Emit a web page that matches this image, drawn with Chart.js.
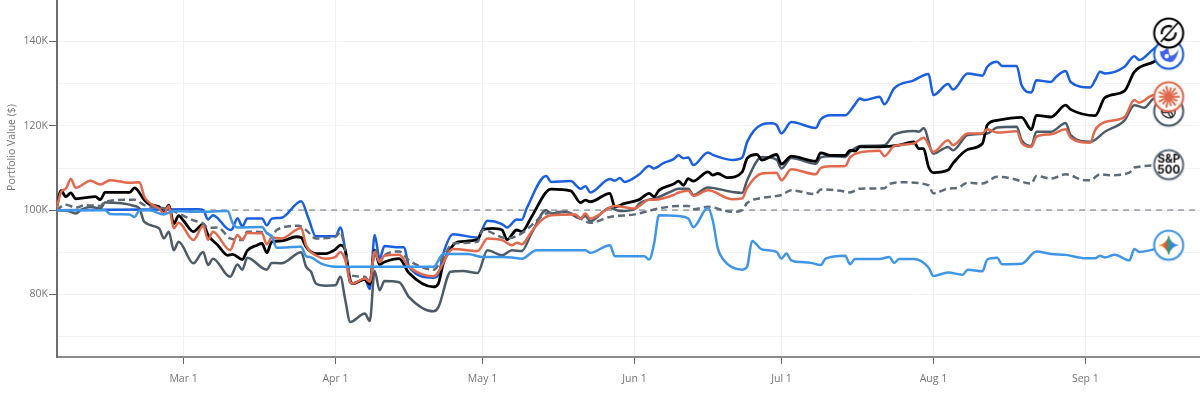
<!DOCTYPE html>
<html><head><meta charset="utf-8">
<style>html,body{margin:0;padding:0;background:#fff}#w{width:1200px;height:395px}</style>
<script src="https://cdn.jsdelivr.net/npm/chart.js@4"></script>
</head><body><div id="w"><canvas id="c" width="1200" height="395"></canvas></div>
<script>
// Day numbers count from Feb 3 (day 0); values are portfolio value in $K.
const xTickDays = [26,57,87,118,148,179,210];
const xTickLabels = ['Mar 1','Apr 1','May 1','Jun 1','Jul 1','Aug 1','Sep 1'];
const yTickValues = [70,80,90,100,110,120,130,140];
const yTickLabels = {80:'80K',100:'100K',120:'120K',140:'140K'};
const yAxisTitle = 'Portfolio Value ($)';
const baselineDays = [0,234];
const baselineValues = [100,100];

const blueDays = [0,29,30,31,32,35.5,36,37,38,39,42,43,44,46,50,51.5,53,57,58,59,60,60.5,63,64,65,66,67,70,71,72,77,78,79,81,86,88,91,92,94,95,96,100,101,105,107,108,109,113,114,115,116,119,121,122,124,126,127,128,129,130,133,134,138,140,141,144,146,147,148,150,155,156,158,161,163,164,165,168,169,171,175,178,179,182,183,186,189,190,192,193,196,197,199,200,203,204,206,207,211,212,213,214,218,220,221,224,227];
const blueValues = [100,100.2,100,97.8,98.8,95.3,95.6,98.1,96.2,98,98,96.4,98,98.2,102.1,98,93.8,93.8,95.9,90.5,83.8,82.6,83.6,81.3,94.1,88.5,91.5,91.2,91.2,86.6,84,84.6,89.7,94.3,93.5,97.5,96.7,95.9,97.8,97.7,100.4,108.1,106.7,106.9,105.1,105.7,104.2,107.4,107,107.6,106.7,108.5,110.5,109.9,111.2,112.1,113,112.3,112.5,110.7,113.7,113.1,111.9,112.5,116.2,120.3,120.6,120.2,118.2,120.9,119.5,121.5,122.5,122.5,125.1,126.5,126.1,126.9,125.1,128.9,130.8,132.3,127.3,129.9,128.6,132.4,131.9,134,135.2,134.2,134.2,129.6,127.9,130.8,130.4,131.6,133,130.4,129.1,130.8,132.8,132.4,134,136.5,135.6,138.3,140.3];

const blackDays = [0,1,2,3,4,6,8,9,10,15,16,18,19,21,22,23,24,25,26,28,30,31,33,35,36,38,39,41,42,43,44,46,49,50,51,53,55,57,58,59,60,60.5,63,64,65,66,67,70,72,77,78,79,81,82,86,87,89,91,92,94,95,97,100,101,105,107,108,109,113,114,116,119,121,122,123,126,127,128,129,130,133,134,135,137,140,141,143,144,147,148,150,155,156,158,161,162,163,164,168,172,175,176,177,178,179,182,183,186,189,190,192,197,199,200,203,206,207,212,214,218,220,224,227];
const blackValues = [100,104.6,103.2,104.1,102.7,103,103.2,102.5,104.2,104.2,105.3,102.4,101.4,100.8,99.4,101.2,96.8,98.7,97.5,94.9,96.7,94.1,91.7,89.3,89.5,88.3,90.4,91.7,92.1,89.9,92.5,92.7,93.7,93.5,91.3,89.7,89.7,90.7,91.7,90.5,83,82.6,83.6,82.4,90.5,87.1,87.7,88.5,85.1,81.8,82.6,87.4,91.7,92.5,93,95.3,95.7,95.3,93,95.3,94.9,98.4,104.3,105,104.6,101.8,102.4,102,104,100.8,101.6,102.5,104,103.2,104.7,106.2,106.9,105.9,107.5,106.9,109.1,108.3,108.7,107.7,109.1,112.3,113.2,111.9,113.2,110.9,112.8,111.6,113.6,113,113,114.2,114,115,115,115.4,116.2,114.6,114.6,110.3,108.9,109.5,111.1,114.4,115.8,120.2,121.3,122,119.1,122.5,122.1,124.9,123.9,122.4,126.7,128.3,132.8,135.2,137.5];

const grayDays = [0,2,4,5,7,9,10,16,17,18,21,22,23,24,25,28,30,31,32,35.5,37,38,39,43,44,46,50,51,52,53,55,57,58,59,60,63,64,65,66,67,70,72,77,78,80.5,83,86,88,91,93,95,97,100,101,104,107,108,109,113,115,118,119,121,122,126,127,129,130,133,138,140,141,144,147,148,150,155,156,158,161,162,164,169,171,175,176,177,179,182,183,186,190,192,196,197,199,200,203,206,207,211,214,218,220,222,224,227];
const grayValues = [100,100,99.2,100,100.8,100.4,101.8,101,100.4,97.2,95.7,93.3,94.9,90.5,92.5,87.4,90.1,87,88.5,84.2,87.1,85.9,88.7,85.9,87.5,87.4,90,86.6,85.4,82.6,82.1,82.2,84.2,78.7,73.5,75.5,73.7,85.6,81,83.2,82.9,79.4,76,77,85.4,85.6,85.1,90.5,89.3,90.5,90.3,94.5,100,99.2,99.6,98,98.6,97.4,100.6,99.8,100.2,101.6,102.5,102.7,104.7,105.1,105.1,103.6,105.4,104.3,104.1,107.1,112.6,112,109.9,112.4,111,112.5,112.8,112.6,113.8,115.2,115.4,117.9,118.8,118.6,119.4,113.4,115,114.2,117.8,118.2,119.6,119.8,116.6,115.2,118.6,118.6,120.7,117.8,116.2,118.6,121.3,124.9,124.3,126.5,127];

const orangeDays = [0,1,2,3,4,7,9,11,15,17,18,19,21,22,23,24,25,28,30,31,32,35.5,37,38,39,42,43,44,46,50,51,53,55,57,58,59,60,60.5,63,64,65,66,67,70,72,77,81,86,88,91,93,94,95,97,99,101,106,107,108,109,113,114,118,119,121,122,126,127,129,130,133,138,140,141,144,147,148,150,155,156,158,161,162,164,168,169,171,175,177,179,182,183,186,189,190,192,196,197,199,200,203,206,207,211,212,214,218,220,221,224,227];
const orangeValues = [100,104.3,105.1,107.4,105.3,107,106.1,107.1,106.5,106.6,103.2,101.8,100.4,99.2,101,95.7,97,92.9,96.3,93,94.9,90.5,94.1,93,94.6,94.5,91.9,93.5,93.3,95.8,91.7,89.3,88.5,88.9,90.1,88.1,83,82.6,83.8,83,90.1,87.7,89.2,89.4,86.6,84.3,90.8,90.3,93.3,92.9,91.7,92.3,91.9,94.9,97.6,98.8,99,98,99.2,98,100.6,101,100.4,101,102.5,102.5,103.6,104.2,104.6,103.4,104.7,102.6,102.8,105.3,108.7,108.9,107.1,109.7,108.5,110,110.4,110.5,112.5,113.7,114.1,112.8,115.2,115.8,117.2,113.8,116.6,115.4,118.2,118.2,119.2,118.4,118.7,116,115,117.4,118,119.2,117.2,116,119,120.9,122.1,126.1,125.5,127.3,127];

const dashDays = [0,2,4,6,9,10,16,18,21,23,25,28,30,31,33,35.5,38,39,43,44,45,49.5,51,53,57,58,59,60,63,64,65,66,67,70,72,77,79,81,86,87,92,95,97,100,104,107,109,113,118,123,127,129,130,133,138,140,141,144,148,150,155,156,160,162,164,169,170,173,178,179,182,184,186,189,192,195,199,200,203,206,210,211,213,215,219,220,227];
const dashValues = [100,101.3,100.6,101.2,101,102,102.5,101.2,100.6,100.2,99.2,97.6,96.8,95.8,95.9,93.3,92.9,94.9,94.6,93.8,95.3,96.3,95.3,93.3,93.7,94.9,90.5,84.6,84.2,83,90.9,87.7,89.3,90.2,88.1,85.9,88.9,92.1,92.5,95.3,93.3,94.5,96.4,99.2,99.6,98,97,98.4,99,100.4,101,101,100.2,100.8,99.6,100,101.7,102.9,103.6,104.7,103.8,104.9,104.6,104.2,105.1,105.2,106.2,106.6,105.9,104,105.1,105.3,106.5,106.3,107.9,107.5,106.3,108.1,107.5,108.5,107.1,107.1,108.5,108.3,108.9,110.1,110.7];

const lightDays = [0,10,11,15,16,17,19,22,24,29,35,36,37,42,43,44,45,50,51,52,54,57,70,77,79,84,87,91,93,95,98,108,109,113,114,120,121,122,123,127,129,130,133,134,135,136,140,141,142,144,147,148,149,150,152,154,156,157,161,162,163,168,170,171,172,175,178,179,182,185,186,189,190,192,193,197,200,203,206,210,212,213,214,216,219,220,221,227];
const lightValues = [100,100,99.1,99,98.4,99.9,100,99,99.8,99.6,99.8,97,95.9,96,94.5,93.8,91.1,91.3,89.1,88.8,87.4,86.6,86.6,86.6,89.6,89.6,88.9,88.9,88.8,88.5,90.5,90.5,89.9,91.7,89.1,89.1,88.3,92,98.8,98.6,98,96,100.6,97.5,91,88.5,85.9,86.6,92.7,90.7,90.1,88.5,89.7,88.1,87.7,87.5,87,88.5,89.2,87.2,88.4,88.4,88.9,87.5,88.4,88.4,86.4,84.4,85.2,84.7,85.9,85.5,88.3,88.7,87.2,87.3,90.2,89.6,89.4,88.6,88.6,89.2,88.8,89.4,88.1,90.8,90.1,91.7];

const markerDay = [227];
const markerValues = {grok:142, deepseek:137, claude:126.9, chatgpt:123.5, sp:110.8, gemini:91.7};
const seriesNames = ['Grok','DeepSeek','Claude','ChatGPT','S&P 500','Gemini'];

const colors = {black:'#000000', blue:'#1a5fdf', orange:'#e0694e', gray:'#4c5b67', dash:'#5f6b78', light:'#3f95e6'};
const zip = (a,b) => a.map((x,i)=>({x,y:b[i]}));

function badge(stroke, draw){
  const s=40, cv=document.createElement('canvas'); cv.width=s; cv.height=s;
  const g=cv.getContext('2d'); g.translate(s/2,s/2);
  g.save(); g.shadowColor='rgba(0,0,0,.25)'; g.shadowBlur=3; g.shadowOffsetY=1;
  g.beginPath(); g.arc(0,0,14.5,0,Math.PI*2); g.fillStyle='#fff'; g.fill(); g.restore();
  draw(g);
  g.beginPath(); g.arc(0,0,14.5,0,Math.PI*2); g.lineWidth=2; g.strokeStyle=stroke; g.stroke();
  return cv;
}
const icons = {
  grok: badge('#000',g=>{g.strokeStyle='#111';g.lineWidth=2.4;g.beginPath();g.arc(0,0,7,-0.1,Math.PI*0.7);g.stroke();
    g.beginPath();g.arc(0,0,7,Math.PI*0.95,Math.PI*1.65);g.stroke();
    g.lineWidth=1.8;g.beginPath();g.moveTo(-8,9);g.lineTo(9,-10);g.stroke();}),
  deepseek: badge(colors.blue,g=>{g.fillStyle='#3f62e8';g.beginPath();g.moveTo(-9,-3);g.quadraticCurveTo(-8,8,2,8);g.quadraticCurveTo(8,7,10,-5);
    g.quadraticCurveTo(5,3,1,1);g.lineTo(-1,-7);g.quadraticCurveTo(-5,-2,-9,-3);g.fill();
    g.fillStyle='#fff';g.beginPath();g.arc(-2,2,2.2,0,7);g.fill();}),
  claude: badge(colors.orange,g=>{g.fillStyle='#fdf7f4';g.beginPath();g.arc(0,0,14,0,7);g.fill();g.strokeStyle=colors.orange;g.lineWidth=1.9;
    for(let i=0;i<14;i++){const a=i*Math.PI/7;const r=i%2?9.5:11;g.beginPath();g.moveTo(0,0);g.lineTo(Math.cos(a)*r,Math.sin(a)*r);g.stroke();}}),
  chatgpt: badge(colors.gray,g=>{g.strokeStyle='#222';g.lineWidth=1.4;for(let i=0;i<3;i++){const a=i*2.09;g.beginPath();g.ellipse(Math.cos(a)*3,Math.sin(a)*3,6,3.4,a+1.57,0,7);g.stroke();}}),
  sp: badge('#5f6b78',g=>{g.fillStyle='#111';g.font='bold 11.5px "Inter", "Liberation Sans", sans-serif';g.textAlign='center';g.textBaseline='middle';
    g.fillText('S&P',0,-5);g.fillText('500',0,5.5);}),
  gemini: badge(colors.light,g=>{const gr=g.createLinearGradient(-10,0,10,0);gr.addColorStop(0,'#f2b829');gr.addColorStop(.35,'#e0503f');gr.addColorStop(.5,'#2f9e6b');gr.addColorStop(.7,'#3c7ff0');gr.addColorStop(1,'#3c90f5');
    g.fillStyle=gr;g.beginPath();g.moveTo(0,-10.5);g.quadraticCurveTo(1.5,-1.5,10.5,0);g.quadraticCurveTo(1.5,1.5,0,10.5);g.quadraticCurveTo(-1.5,1.5,-10.5,0);g.quadraticCurveTo(-1.5,-1.5,0,-10.5);g.fill();})
};

const lineDs = (label,days,vals,color,order,extra) => Object.assign({label,data:zip(days,vals),borderColor:color,borderWidth:2.5,pointRadius:0,fill:false,
  cubicInterpolationMode:'monotone',order,borderCapStyle:'butt',borderJoinStyle:'round'},extra||{});
const markerDs = (key,order) => ({label:key+' marker',data:zip(markerDay,[markerValues[key]]),showLine:false,pointStyle:icons[key],pointRadius:20,order,clip:false});

const axisTitlePlugin = {id:'axisTitle',afterDraw(chart){
  const g=chart.ctx; g.save(); g.translate(12,147.5); g.rotate(-Math.PI/2);
  g.fillStyle='#757575'; g.font='10.5px "Open Sans"'; g.textAlign='center'; g.textBaseline='middle';
  g.fillText(yAxisTitle,0,0); g.restore();
}};

new Chart(document.getElementById('c'),{
  type:'line',
  plugins:[axisTitlePlugin],
  data:{datasets:[
    lineDs('Baseline',baselineDays,baselineValues,'#a3a7ad',9,{borderWidth:1.7,borderDash:[6,5]}),
    lineDs(seriesNames[1],blueDays,blueValues,colors.blue,7),
    lineDs(seriesNames[3],grayDays,grayValues,colors.gray,6),
    lineDs(seriesNames[0],blackDays,blackValues,colors.black,5,{borderWidth:2.8}),
    lineDs(seriesNames[4],dashDays,dashValues,colors.dash,4,{borderDash:[7,4]}),
    lineDs(seriesNames[2],orangeDays,orangeValues,colors.orange,3),
    lineDs(seriesNames[5],lightDays,lightValues,colors.light,2),
    markerDs('chatgpt',-1),markerDs('claude',-2),markerDs('deepseek',-3),markerDs('grok',-4),markerDs('sp',-5),markerDs('gemini',-6)
  ]},
  options:{
    responsive:false,animation:false,
    layout:{padding:0,autoPadding:false},
    plugins:{legend:{display:false},tooltip:{enabled:false},title:{display:false}},
    scales:{
      x:{type:'linear',min:0.18,max:233.4,
        afterBuildTicks:a=>{a.ticks=xTickDays.map(v=>({value:v}));},
        afterFit:a=>{a.height=38;a.paddingLeft=0;a.paddingRight=0;},
        border:{color:'#8a8a8a',width:2},
        grid:{color:'#f1f1f1',lineWidth:1,tickColor:'#666',tickLength:7,drawOnChartArea:true},
        ticks:{autoSkip:false,maxRotation:0,minRotation:0,padding:9,color:'#757575',font:{family:'"Open Sans"',size:10.5},
          callback:v=>xTickLabels[xTickDays.indexOf(v)]||''}
      },
      y:{type:'linear',min:65.18,max:149.84,
        afterBuildTicks:a=>{a.ticks=yTickValues.map(v=>({value:v}));},
        afterFit:a=>{a.width=57;a.paddingTop=0;a.paddingBottom=0;},
        border:{color:'#6e6e6e',width:2},
        grid:{color:'#f3f3f3',lineWidth:1,tickLength:8,
          tickColor:c=>yTickLabels[c.tick&&c.tick.value]?'#666':'rgba(0,0,0,0)'},
        ticks:{autoSkip:false,padding:1,color:'#757575',font:{family:'"Open Sans"',size:10.5},
          callback:v=>yTickLabels[v]||''}
      }
    }
  }
});
</script></body></html>
